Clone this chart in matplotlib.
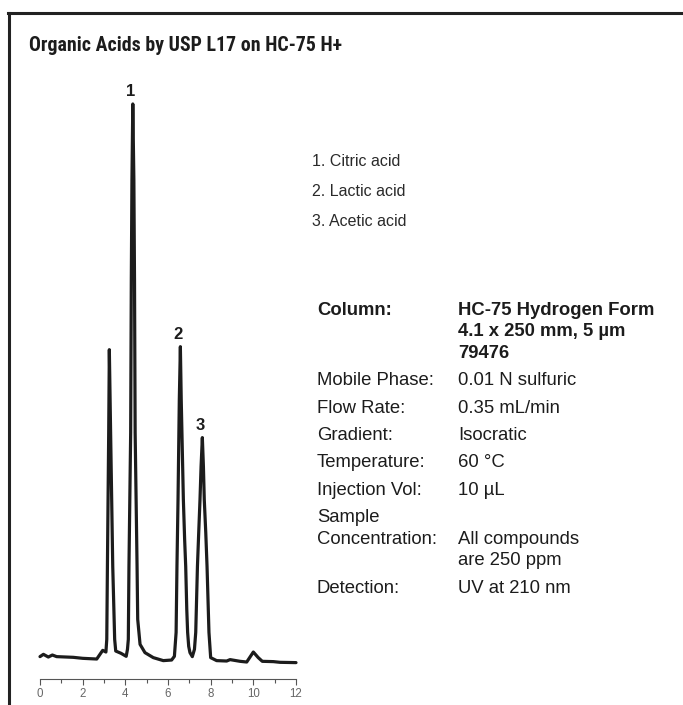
import matplotlib
matplotlib.use("Agg")
import matplotlib.pyplot as plt
from matplotlib.lines import Line2D
from matplotlib import font_manager as fm

# ---------------- data ----------------
time_min = [0.00, 0.16, 0.39, 0.58, 0.78, 1.56, 2.00, 2.66, 2.94, 3.09,
            3.13, 3.16, 3.22, 3.25, 3.31, 3.41, 3.50, 3.55, 3.80, 4.04,
            4.10, 4.14, 4.17, 4.25, 4.28, 4.31, 4.35, 4.40, 4.43, 4.46, 4.55, 4.58,
            4.69, 4.92, 5.31, 5.78, 6.17, 6.30,
            6.38, 6.42, 6.47, 6.53, 6.58, 6.62, 6.67, 6.72, 6.78, 6.83, 6.88, 6.92, 6.97, 7.03, 7.14,
            7.24, 7.30, 7.38, 7.44, 7.50, 7.55, 7.61, 7.66, 7.70, 7.77, 7.83, 7.92, 8.00, 8.28, 8.75,
            8.91, 9.38, 9.69, 10.00, 10.23, 10.42, 10.94, 11.25, 12.00]
signal = [22.7, 25.0, 22.3, 24.3, 22.7, 22.0, 21.0, 20.3, 29.0, 27.3,
          40.0, 113.0, 247.0, 330.0, 247.0, 113.0, 40.0, 28.3, 26.0, 23.0,
          30.0, 40.0, 113.0, 247.0, 400.0, 500.0, 576.0, 500.0, 400.0, 247.0, 113.0, 60.0,
          35.0, 26.7, 21.7, 18.7, 19.3, 23.0,
          47.0, 113.0, 180.0, 280.0, 333.0, 280.0, 230.0, 180.0, 140.0, 113.0, 70.0, 47.0, 33.0, 26.7, 22.7,
          30.0, 47.0, 113.0, 147.0, 180.0, 213.0, 242.0, 213.0, 180.0, 147.0, 113.0, 47.0, 21.7, 18.7, 18.3,
          19.7, 18.0, 17.3, 27.3, 21.7, 18.0, 17.7, 17.0, 16.7]

peak_ids = ["1", "2", "3"]
peak_times = [4.35, 6.58, 7.61]
peak_heights = [576.0, 333.0, 242.0]
compounds = ["Citric acid", "Lactic acid", "Acetic acid"]

major_ticks = [0, 2, 4, 6, 8, 10, 12]
minor_ticks = [1, 3, 5, 7, 9, 11]

title = "Organic Acids by USP L17 on HC-75 H+"
cond_labels = ["Column:", "Mobile Phase:", "Flow Rate:", "Gradient:", "Temperature:",
               "Injection Vol:", "Sample\nConcentration:", "Detection:"]
cond_values = ["HC-75 Hydrogen Form\n4.1 x 250 mm, 5 µm\n79476", "0.01 N sulfuric",
               "0.35 mL/min", "Isocratic", "60 °C", "10 µL",
               "All compounds\nare 250 ppm", "UV at 210 nm"]

# ---------------- fonts ----------------
bold_names = {f.name for f in fm.fontManager.ttflist
              if f.weight in (700, "bold") and "[" not in f.fname}
BODY = ["Liberation Sans", "DejaVu Sans"]
TITLE = ["DejaVu Sans"]
title_kw = {"fontstretch": "condensed"}
for cand in ["Roboto Condensed", "Liberation Sans Narrow", "Asap Condensed",
             "Barlow Semi Condensed", "Cabin Condensed"]:
    if cand in bold_names:
        TITLE = [cand, "DejaVu Sans"]
        title_kw = {}
        break

W, H = 683, 705
fig = plt.figure(figsize=(W / 100, H / 100), dpi=100)


def fx(px):
    return px / W


def fy(py):
    return 1 - py / H


# ---------------- chromatogram ----------------
ax_y0, ax_y1 = 679.3, 90.0
ax = fig.add_axes([fx(40), (H - ax_y0) / H, 256 / W, (ax_y0 - ax_y1) / H])
ax.plot(time_min, signal, color="#1c1c1c", lw=2.3, solid_joinstyle="round",
        solid_capstyle="round", clip_on=False)
ax.set_xlim(0, 12)
ax.set_ylim(0, 590)
for s in ("left", "right", "top"):
    ax.spines[s].set_visible(False)
ax.spines["bottom"].set_color("#555555")
ax.spines["bottom"].set_linewidth(0.8)
ax.set_yticks([])
ax.set_xticks(major_ticks)
ax.set_xticks(minor_ticks, minor=True)
ax.tick_params(axis="x", which="major", length=4.5, width=0.8, color="#555555",
               labelsize=8.3, labelcolor="#666666", pad=1.5)
ax.tick_params(axis="x", which="minor", length=3, width=0.8, color="#555555")
for lab in ax.get_xticklabels():
    lab.set_family(BODY)
ax.patch.set_alpha(0)

for pid, t, h in zip(peak_ids, peak_times, peak_heights):
    ax.annotate(pid, (t, h), xytext=(-1.5, 5.5), textcoords="offset points",
                ha="center", va="baseline", fontsize=12, fontweight="bold",
                family=BODY, color="#1c1c1c")

# ---------------- frame ----------------
fig.add_artist(Line2D([fx(9), fx(9)], [fy(12.7), 0], color="#222222", lw=2.2))
fig.add_artist(Line2D([fx(7.9), 1], [fy(12.7), fy(12.7)], color="#222222", lw=2.2))

# ---------------- title ----------------
fig.text(fx(29), fy(51), title, fontsize=14.3, fontweight="bold", family=TITLE,
         color="#1c1c1c", va="baseline", ha="left", **title_kw)

# ---------------- compound list ----------------
for i, name in enumerate(compounds):
    fig.text(fx(312.5), fy(166 + 30 * i), f"{i + 1}. {name}", fontsize=11.5,
             family=BODY, color="#2a2a2a", va="baseline", ha="left")

# ---------------- conditions ----------------
line_h = 21.7
row_gap = 27.3
b = 314.8
for i, (lab, val) in enumerate(zip(cond_labels, cond_values)):
    weight = "bold" if i == 0 else "normal"
    llines = lab.split("\n")
    vlines = val.split("\n")
    for j, ln in enumerate(llines):
        fig.text(fx(317), fy(b + j * line_h), ln, fontsize=13.3, family=BODY,
                 fontweight=weight, color="#1c1c1c", va="baseline", ha="left")
    vb = b + (len(llines) - 1) * line_h
    for j, ln in enumerate(vlines):
        fig.text(fx(458), fy(vb + j * line_h), ln, fontsize=13.3, family=BODY,
                 fontweight=weight, color="#1c1c1c", va="baseline", ha="left")
    last = vb + (len(vlines) - 1) * line_h
    b = last + row_gap

fig.savefig("out.png", dpi=100, facecolor="white")
